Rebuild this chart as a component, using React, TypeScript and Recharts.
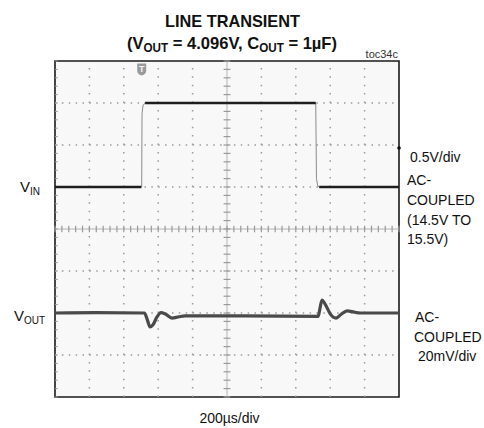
import React from 'react'
import {
  LineChart,
  Line,
  XAxis,
  YAxis,
  CartesianGrid,
  ReferenceLine,
  ReferenceArea,
  ReferenceDot,
} from 'recharts'

// scope screen in divisions: 10 across (200us/div), 8 up
const xGrid = [1, 2, 3, 4, 6, 7, 8, 9]
const yGrid = [1, 2, 3, 5, 6, 7]
const xCenter = 5
const yCenter = 4
const xMinor = Array.from({ length: 51 }, (_, i) => i * 0.2)
const yMinor = Array.from({ length: 41 }, (_, i) => i * 0.2)

// input step 14.5V -> 15.5V -> 14.5V (div units, 0.5V/div)
const vInTrace = [
  { t: 0, v: 5 },
  { t: 2.52, v: 5 },
  { t: 2.53, v: 6.75 },
  { t: 2.56, v: 6.95 },
  { t: 2.63, v: 7 },
  { t: 7.58, v: 7 },
  { t: 7.6, v: 5.2 },
  { t: 7.64, v: 5.02 },
  { t: 7.7, v: 5 },
  { t: 10, v: 5 },
]
const vInHold = [
  { t: 0, v: 5 },
  { t: 2.51, v: 5 },
  { t: 2.55, v: null },
  { t: 2.62, v: 7 },
  { t: 7.58, v: 7 },
  { t: 7.62, v: null },
  { t: 7.68, v: 5 },
  { t: 10, v: 5 },
]

// output response, 20mV/div
const vOut = [
  { t: 0, v: 2.0 },
  { t: 1.2, v: 2.01 },
  { t: 2.6, v: 2.0 },
  { t: 2.68, v: 1.85 },
  { t: 2.76, v: 1.67 },
  { t: 2.85, v: 1.72 },
  { t: 2.96, v: 1.9 },
  { t: 3.08, v: 2.01 },
  { t: 3.22, v: 1.97 },
  { t: 3.4, v: 1.88 },
  { t: 3.6, v: 1.91 },
  { t: 3.78, v: 1.93 },
  { t: 5.5, v: 1.93 },
  { t: 7.65, v: 1.92 },
  { t: 7.7, v: 2.1 },
  { t: 7.76, v: 2.31 },
  { t: 7.86, v: 2.2 },
  { t: 8.0, v: 1.98 },
  { t: 8.17, v: 1.88 },
  { t: 8.32, v: 1.97 },
  { t: 8.49, v: 2.05 },
  { t: 8.7, v: 2.02 },
  { t: 8.87, v: 2.0 },
  { t: 10, v: 2.0 },
]

const triggerT = 2.52
const triggerLevel = 7.8
const chMarker = 5.93

const font = '"Liberation Sans", Arial, sans-serif'

const TriggerMark = (props: any) => {
  const { cx, cy } = props
  return (
    <g>
      <path
        d={`M${cx - 4.5},${cy - 6} h9 v7 q0,4 -4.5,5 q-4.5,-1 -4.5,-5 z`}
        fill="#9a9a9a"
      />
      <text x={cx} y={cy + 3} fontSize={9} fontWeight="bold" fill="#f4f4f4" textAnchor="middle" fontFamily={font}>
        T
      </text>
    </g>
  )
}

export default function App() {
  return (
    <div style={{ position: 'absolute', left: 0, top: 0, width: 484, height: 428, background: '#fff' }}>
      <LineChart width={484} height={428} margin={{ top: 61, right: 85, bottom: 31, left: 55 }}>
        <CartesianGrid horizontal={false} vertical={false} fill="#f8f8f8" stroke="none" />
        <XAxis type="number" dataKey="t" domain={[0, 10]} hide allowDataOverflow />
        <YAxis type="number" domain={[0, 8]} hide allowDataOverflow />

        {xGrid.map((x) => (
          <ReferenceLine key={'gx' + x} x={x} stroke="#9a9a9a" strokeWidth={1.5} strokeDasharray="1.5 6.9" />
        ))}
        {yGrid.map((y) => (
          <ReferenceLine key={'gy' + y} y={y} stroke="#9a9a9a" strokeWidth={1.5} strokeDasharray="1.5 5.38" />
        ))}
        <ReferenceLine x={xCenter} stroke="#b4b4b4" strokeWidth={1} />
        <ReferenceLine y={yCenter} stroke="#b4b4b4" strokeWidth={1} />
        {xMinor.map((x) => (
          <ReferenceLine
            key={'mx' + x}
            segment={[{ x, y: yCenter - 0.08 }, { x, y: yCenter + 0.08 }]}
            stroke="#9a9a9a"
            strokeWidth={1.2}
          />
        ))}
        {yMinor.map((y) => (
          <ReferenceLine
            key={'my' + y}
            segment={[{ x: xCenter - 0.1, y }, { x: xCenter + 0.1, y }]}
            stroke="#9a9a9a"
            strokeWidth={1.2}
          />
        ))}
        {yMinor.map((y) => (
          <ReferenceLine
            key={'ly' + y}
            segment={[{ x: 0, y }, { x: 0.08, y }]}
            stroke="#9a9a9a"
            strokeWidth={1}
          />
        ))}

        <Line data={vInTrace} dataKey="v" type="linear" stroke="#8a8a8a" strokeWidth={1} dot={false} isAnimationActive={false} />
        <Line data={vInHold} dataKey="v" type="linear" stroke="#1e1e1e" strokeWidth={2.6} dot={false} isAnimationActive={false} />
        <Line data={vOut} dataKey="v" type="monotone" stroke="#4a4a4a" strokeWidth={3.2} dot={false} isAnimationActive={false} />

        <ReferenceArea x1={0} x2={10} y1={0} y2={8} fill="none" stroke="#1a1a1a" strokeWidth={1.6} ifOverflow="visible" />
        <ReferenceDot x={triggerT} y={triggerLevel} shape={TriggerMark} ifOverflow="visible" />
        <ReferenceDot x={10} y={chMarker} r={1.8} fill="#111" stroke="none" ifOverflow="visible" />
      </LineChart>

      <svg
        width={484}
        height={428}
        style={{ position: 'absolute', left: 0, top: 0, pointerEvents: 'none' }}
        fontFamily={font}
        fill="#111"
      >
        <text x={232.5} y={27} fontSize={17} fontWeight="bold" textAnchor="middle" textLength={135} lengthAdjust="spacingAndGlyphs">
          LINE TRANSIENT
        </text>
        <text x={232} y={49} fontSize={17} fontWeight="bold" textAnchor="middle" textLength={210} lengthAdjust="spacingAndGlyphs">
          (V<tspan fontSize={12} dy={3}>OUT</tspan>
          <tspan dy={-3}> = 4.096V, C</tspan>
          <tspan fontSize={12} dy={3}>OUT</tspan>
          <tspan dy={-3}> = 1µF)</tspan>
        </text>
        <text x={398} y={58} fontSize={11} textAnchor="end" fill="#333">
          toc34c
        </text>

        <text x={20} y={192} fontSize={15}>
          V<tspan fontSize={10} dy={3}>IN</tspan>
        </text>
        <text x={14} y={321} fontSize={15}>
          V<tspan fontSize={10} dy={3}>OUT</tspan>
        </text>

        <text x={410} y={162} fontSize={14}>0.5V/div</text>
        <text x={407} y={185} fontSize={14}>AC-</text>
        <text x={407} y={205} fontSize={14}>COUPLED</text>
        <text x={407} y={225} fontSize={14}>(14.5V TO</text>
        <text x={407} y={244} fontSize={14}>15.5V)</text>

        <text x={415} y={322} fontSize={14}>AC-</text>
        <text x={414} y={342} fontSize={14}>COUPLED</text>
        <text x={418} y={361} fontSize={14}>20mV/div</text>

        <text x={229.5} y={423} fontSize={14} textAnchor="middle">200µs/div</text>
      </svg>
    </div>
  )
}
